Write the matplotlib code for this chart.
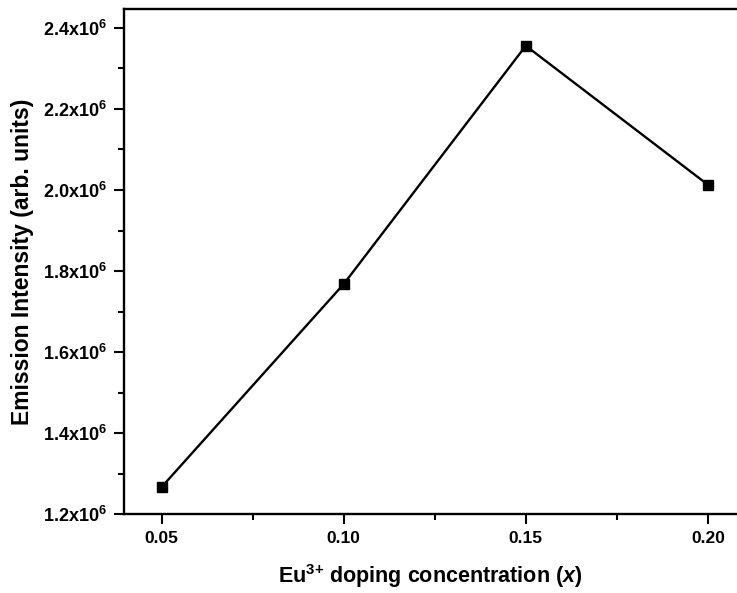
import matplotlib
matplotlib.use('Agg')
import matplotlib.pyplot as plt
from matplotlib.ticker import MultipleLocator, FuncFormatter

plt.rcParams['font.family'] = ['Liberation Sans', 'DejaVu Sans']
plt.rcParams['font.weight'] = 'bold'
plt.rcParams['mathtext.fontset'] = 'custom'
plt.rcParams['mathtext.rm'] = 'Liberation Sans:bold'
plt.rcParams['mathtext.bf'] = 'Liberation Sans:bold'
plt.rcParams['mathtext.it'] = 'Liberation Sans:bold:italic'
plt.rcParams['mathtext.bfit'] = 'Liberation Sans:bold:italic'

# data
concentration = [0.05, 0.10, 0.15, 0.20]
intensity = [1.267e6, 1.768e6, 2.356e6, 2.013e6]

fig = plt.figure(figsize=(7.37, 5.93), dpi=100)
ax = fig.add_axes([0.168, 0.133, 0.832, 0.852])

ax.plot(concentration, intensity, color='black', linewidth=1.7,
        marker='s', markersize=7.5, markerfacecolor='black', markeredgecolor='black')

ax.set_xlim(0.0396, 0.208)
ax.set_ylim(1.2e6, 2.447e6)

ax.xaxis.set_major_locator(MultipleLocator(0.05))
ax.xaxis.set_minor_locator(MultipleLocator(0.025))
ax.yaxis.set_major_locator(MultipleLocator(0.2e6))
ax.yaxis.set_minor_locator(MultipleLocator(0.1e6))

ax.xaxis.set_major_formatter(FuncFormatter(lambda v, p: f"{v:.2f}"))
ax.yaxis.set_major_formatter(FuncFormatter(lambda v, p: f"{v / 1e6:.1f}x10$^{{6}}$"))

ax.spines['right'].set_visible(False)
for s in ['left', 'bottom', 'top']:
    ax.spines[s].set_linewidth(1.7)

ax.tick_params(axis='both', which='major', direction='out', length=7, width=1.5,
               labelsize=12.5, pad=5)
ax.tick_params(axis='y', which='major', labelsize=13)
ax.tick_params(axis='both', which='minor', direction='out', length=4.5, width=1.5)
ax.tick_params(top=False, right=False, which='both')

ax.set_xlabel(r'Eu$^{3{+}}$ doping concentration ($\mathbfit{x}$)', fontsize=15.5,
              fontweight='bold', labelpad=12)
ax.set_ylabel('Emission Intensity (arb. units)', fontsize=16.5, fontweight='bold',
              labelpad=7)

fig.savefig('out.png', dpi=100)
